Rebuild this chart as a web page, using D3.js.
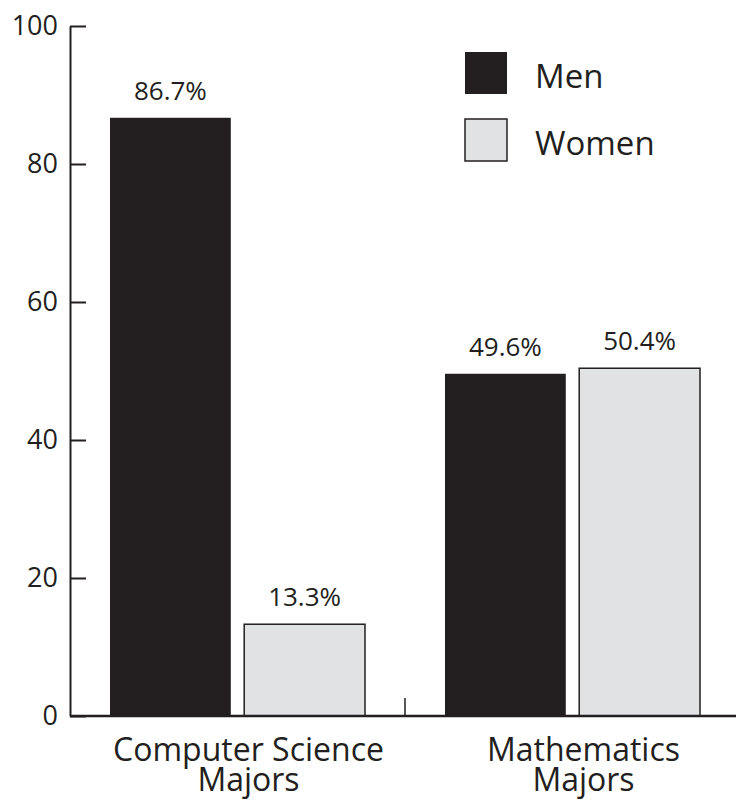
<!DOCTYPE html>
<html><head><meta charset="utf-8">
<script src="https://cdn.jsdelivr.net/npm/d3@7"></script>
<style>
body{margin:0;background:#fff;}
text{font-family:"Open Sans",sans-serif;fill:#231f20;}
</style></head>
<body><svg id="c" width="736" height="801"></svg>
<script>
const categories = ["Computer Science|Majors", "Mathematics|Majors"];
const seriesNames = ["Men", "Women"];
const menValues = [86.7, 49.6];
const womenValues = [13.3, 50.4];
const valueLabels = [["86.7%", "13.3%"], ["49.6%", "50.4%"]];
const yTicks = [0, 20, 40, 60, 80, 100];

const dark = "#231f20", light = "#e1e2e4";
const svg = d3.select("#c");
const y = d3.scaleLinear().domain([0, 100]).range([716, 26]);
const x0 = d3.scaleBand().domain(categories).range([70, 740]);
const x1 = d3.scaleBand().domain(seriesNames).range([40, 295]).paddingInner(0.1);
const color = d3.scaleOrdinal().domain(seriesNames).range([dark, light]);

const rows = categories.map((c, i) => ({cat: c, vals: [
  {s: "Men", v: menValues[i], lab: valueLabels[i][0]},
  {s: "Women", v: womenValues[i], lab: valueLabels[i][1]}]}));

const g = svg.selectAll("g.grp").data(rows).join("g").attr("class", "grp")
  .attr("transform", d => `translate(${x0(d.cat)},0)`);
g.selectAll("rect").data(d => d.vals).join("rect")
  .attr("x", d => x1(d.s)).attr("width", x1.bandwidth())
  .attr("y", d => y(d.v)).attr("height", d => y(0) - y(d.v))
  .attr("fill", d => color(d.s))
  .attr("stroke", d => d.s === "Women" ? dark : "none")
  .attr("stroke-width", 1.5);
g.selectAll("text.val").data(d => d.vals).join("text").attr("class", "val")
  .attr("x", d => x1(d.s) + x1.bandwidth() / 2)
  .attr("y", d => y(d.v) - 18)
  .attr("text-anchor", "middle").style("font-size", "26px")
  .text(d => d.lab);

// category labels
g.each(function(d) {
  const parts = d.cat.split("|");
  const t = d3.select(this).append("text").attr("text-anchor", "middle")
    .style("font-size", "32px");
  parts.forEach((p, i) => t.append("tspan")
    .attr("x", x0.bandwidth() / 2 + 11).attr("y", 761 + i * 30).text(p));
});

// y axis
const ax = svg.append("g").attr("transform", "translate(70,0)")
  .call(d3.axisLeft(y).tickValues(yTicks).tickSize(-16).tickPadding(12).tickSizeOuter(0));
ax.select(".domain").attr("stroke", dark).attr("stroke-width", 2);
ax.selectAll(".tick line").attr("stroke", dark).attr("stroke-width", 2);
ax.selectAll(".tick text").style("font-size", "27px").attr("fill", dark)
  .style("font-family", "'Open Sans',sans-serif");

// baseline
svg.append("line").attr("x1", 70).attr("x2", 736).attr("y1", y(0)).attr("y2", y(0))
  .attr("stroke", dark).attr("stroke-width", 2.5);
// separator tick
svg.append("line").attr("x1", x0(categories[1])).attr("x2", x0(categories[1]))
  .attr("y1", y(0)).attr("y2", y(0) - 18).attr("stroke", dark).attr("stroke-width", 1.5);

// legend
const lg = svg.append("g").attr("transform", "translate(465,52)");
const li = lg.selectAll("g").data(seriesNames).join("g")
  .attr("transform", (d, i) => `translate(0,${i * 67})`);
li.append("rect").attr("width", 42).attr("height", 42)
  .attr("fill", d => color(d)).attr("stroke", d => d === "Women" ? dark : "none").attr("stroke-width", 1.5);
li.append("text").attr("x", 70).attr("y", 36).style("font-size", "33px").text(d => d);
</script></body></html>
